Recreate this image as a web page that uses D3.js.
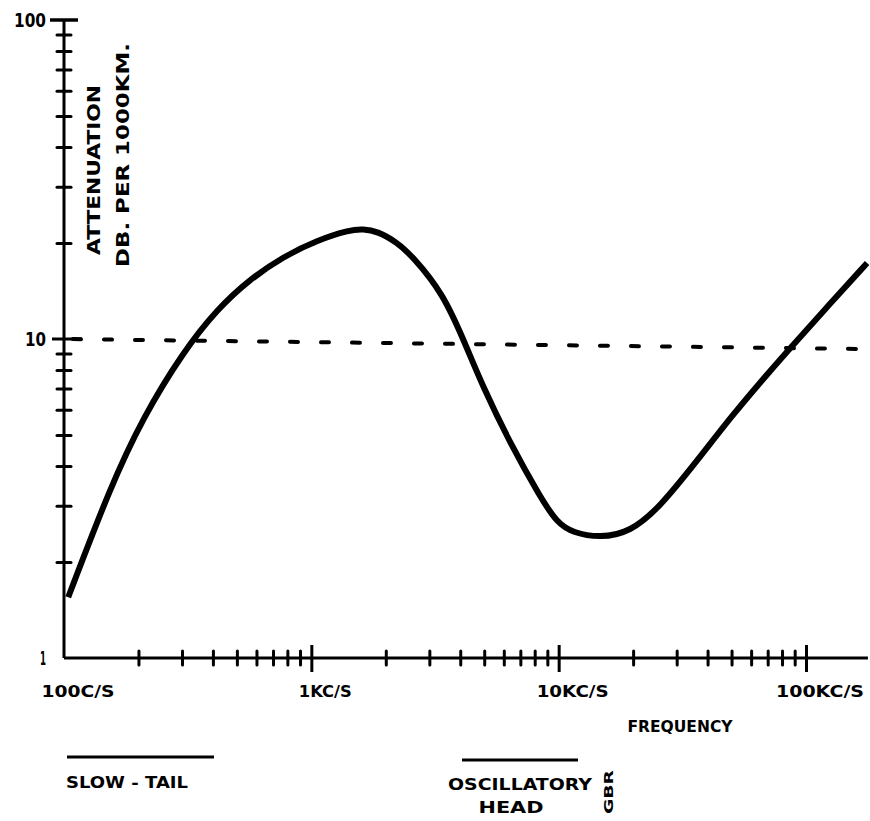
<!DOCTYPE html>
<html>
<head>
<meta charset="utf-8">
<script src="https://cdn.jsdelivr.net/npm/d3@7"></script>
<style>
  body{margin:0;background:#fff;}
  svg text{font-family:"DejaVu Sans",sans-serif;font-weight:bold;fill:#000;}
  .axis path,.axis line{stroke:#000;}
</style>
</head>
<body>
<svg id="chart" width="870" height="821"></svg>
<script>
// attenuation curve (frequency in c/s, db per 1000 km)
const freq=[104,154,209,303,416,565,769,1055,1435,1618,1844,2221,2577,3410,4183,4946,6358,8412,9859,11430,14700,19440,25700,37300,50700,65200,83900,121700,176600]
const atten=[1.55,3.44,5.69,9.1,12.4,15.4,18.1,20.4,22.0,22.1,21.8,20.1,18.1,13.9,9.7,7.07,4.72,3.2,2.65,2.47,2.38,2.48,2.97,4.27,5.8,7.3,9.15,12.6,17.3]

// reference (dashed) level
const ref_freq=[100,178000]
const ref_atten=[10,9.3]

const x_major=[100,1000,10000,100000]
const x_labels=['100C/S','1KC/S','10KC/S','100KC/S']
const y_major=[1,10,100]
const y_labels=['1','10','100']

const minor=(decades)=>decades.flatMap(d=>[2,3,4,5,6,7,8,9].map(m=>m*d))
const x_minor=minor([100,1000,10000,100000]).filter(v=>v<178000)
const y_minor=minor([1,10])

const svg=d3.select('#chart')

const x=d3.scaleLog().domain([100,100000]).range([64,806])
const y=d3.scaleLog().domain([1,100]).range([658,20])
const x_end=x(178000)

// axis lines
svg.append('line').attr('x1',x(100)).attr('x2',x_end).attr('y1',y(1)).attr('y2',y(1))
    .attr('stroke','#000').attr('stroke-width',3)
svg.append('line').attr('x1',x(100)).attr('x2',x(100)).attr('y1',y(1)).attr('y2',y(100)-1)
    .attr('stroke','#000').attr('stroke-width',3)

// x ticks (blips on both sides of the axis)
const gx=svg.append('g').attr('class','axis').attr('transform',`translate(0,${y(1)})`)
    .call(d3.axisBottom(x).tickValues(x_minor).tickSize(7).tickFormat(''))
gx.select('.domain').remove()
gx.selectAll('line').attr('y1',-7).attr('stroke-width',3).attr('stroke-linecap','round')

const gxm=svg.append('g').attr('class','axis').attr('transform',`translate(0,${y(1)})`)
    .call(d3.axisBottom(x).tickValues(x_major.slice(1)).tickSize(14).tickFormat(''))
gxm.select('.domain').remove()
gxm.selectAll('line').attr('y1',-13).attr('stroke-width',3)

// y ticks
const gy=svg.append('g').attr('class','axis').attr('transform',`translate(${x(100)},0)`)
    .call(d3.axisLeft(y).tickValues(y_minor).tickSize(7).tickFormat(''))
gy.select('.domain').remove()
gy.selectAll('line').attr('x2',7).attr('x1',-7).attr('stroke-width',3).attr('stroke-linecap','round')

svg.append('line').attr('x1',x(100)-12).attr('x2',x(100)+18).attr('y1',y(10)).attr('y2',y(10))
    .attr('stroke','#000').attr('stroke-width',3)
svg.append('line').attr('x1',x(100)-14).attr('x2',x(100)+14).attr('y1',y(100)).attr('y2',y(100))
    .attr('stroke','#000').attr('stroke-width',3.5)

// tick labels
svg.selectAll('.xl').data(x_major).join('text').attr('class','xl')
    .attr('x',d=>x(d)+14).attr('y',y(1)+39)
    .attr('text-anchor','middle').attr('font-size',16)
    .attr('textLength',(d,i)=>[73,53,72,88][i]).attr('lengthAdjust','spacingAndGlyphs')
    .text((d,i)=>x_labels[i])

svg.selectAll('.yl').data(y_major).join('text').attr('class','yl')
    .attr('x',x(100)-18).attr('y',d=>y(d)+7)
    .attr('text-anchor','end').attr('font-size',19)
    .attr('textLength',(d,i)=>[6,21,32][i]).attr('lengthAdjust','spacingAndGlyphs')
    .text((d,i)=>y_labels[i])

// dashed reference level
svg.append('path')
    .datum(ref_freq.map((f,i)=>[f,ref_atten[i]]))
    .attr('d',d3.line().x(d=>x(d[0])).y(d=>y(d[1])))
    .attr('fill','none').attr('stroke','#000').attr('stroke-width',4)
    .attr('stroke-linecap','round').attr('stroke-dasharray','8,23').attr('stroke-dashoffset',-40)

// attenuation curve
svg.append('path')
    .datum(freq.map((f,i)=>[f,atten[i]]))
    .attr('d',d3.line().x(d=>x(d[0])).y(d=>y(d[1])).curve(d3.curveBasis))
    .attr('fill','none').attr('stroke','#000').attr('stroke-width',6)

// axis titles
svg.append('text').attr('transform','translate(100,170) rotate(-90)')
    .attr('text-anchor','middle').attr('font-size',17)
    .attr('textLength',170).attr('lengthAdjust','spacingAndGlyphs').text('ATTENUATION')
svg.append('text').attr('transform','translate(129,155) rotate(-90)')
    .attr('text-anchor','middle').attr('font-size',17)
    .attr('textLength',224).attr('lengthAdjust','spacingAndGlyphs').text('DB.  PER  1000KM.')

svg.append('text').attr('x',680).attr('y',732).attr('text-anchor','middle')
    .attr('font-size',16).attr('textLength',105).attr('lengthAdjust','spacingAndGlyphs').text('FREQUENCY')

// bottom legend
svg.append('line').attr('x1',67).attr('x2',214).attr('y1',757).attr('y2',757)
    .attr('stroke','#000').attr('stroke-width',3)
svg.append('text').attr('x',66).attr('y',788).attr('font-size',15)
    .attr('textLength',122).attr('lengthAdjust','spacingAndGlyphs').text('SLOW - TAIL')

svg.append('line').attr('x1',462).attr('x2',578).attr('y1',760).attr('y2',760)
    .attr('stroke','#000').attr('stroke-width',3)
svg.append('text').attr('x',520).attr('y',790).attr('text-anchor','middle').attr('font-size',15)
    .attr('textLength',144).attr('lengthAdjust','spacingAndGlyphs').text('OSCILLATORY')
svg.append('text').attr('x',511).attr('y',813).attr('text-anchor','middle').attr('font-size',15)
    .attr('textLength',65).attr('lengthAdjust','spacingAndGlyphs').text('HEAD')
svg.append('text').attr('transform','translate(613,792) rotate(-90)')
    .attr('text-anchor','middle').attr('font-size',13)
    .attr('textLength',44).attr('lengthAdjust','spacingAndGlyphs').text('GBR')
</script>
</body>
</html>
